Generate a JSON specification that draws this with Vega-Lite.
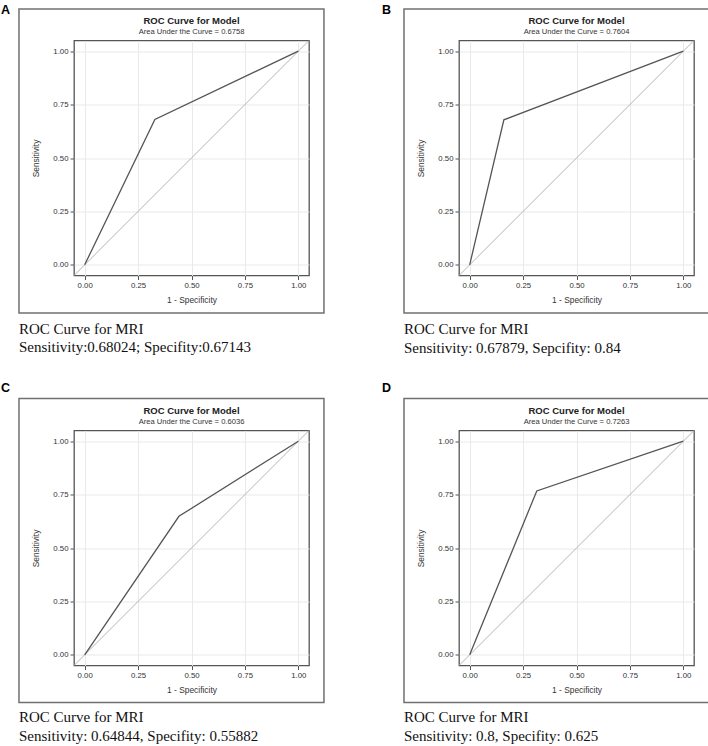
{
  "$schema": "https://vega.github.io/schema/vega-lite/v6.json",
  "background": "white",
  "padding": {"left": 0, "top": 2.5, "right": 0, "bottom": 0},
  "bounds": "flush",
  "columns": 2,
  "spacing": {"row": 155, "column": 150},
  "concat": [
    {
      "width": 235, "height": 235,
      "layer": [
        {"data": {"values": [{}]}, "mark": {"type": "rule", "color": "#b4b4b4", "strokeWidth": 1},
         "encoding": {"x": {"datum": -0.05, "type": "quantitative"}, "x2": {"datum": 1.05}, "y": {"datum": -0.05, "type": "quantitative"}, "y2": {"datum": 1.05}}},
        {"data": {"values": [{"fpr": 0, "tpr": 0}, {"fpr": 0.32857, "tpr": 0.68024}, {"fpr": 1, "tpr": 1}]},
         "mark": {"type": "line", "color": "#555555", "strokeWidth": 1.3},
         "encoding": {
           "x": {"field": "fpr", "type": "quantitative", "scale": {"domain": [-0.05, 1.05], "nice": false, "zero": false}, "axis": {"title": "1 - Specificity", "values": [0, 0.25, 0.5, 0.75, 1], "format": ".2f"}},
           "y": {"field": "tpr", "type": "quantitative", "scale": {"domain": [-0.05, 1.05], "nice": false, "zero": false}, "axis": {"title": "Sensitivity", "values": [0, 0.25, 0.5, 0.75, 1], "format": ".2f"}}}},
        {"data": {"values": [{}]}, "mark": {"type": "text", "font": "Liberation Sans", "fontWeight": "bold", "fontSize": 9.5, "color": "#222", "align": "center", "baseline": "middle", "clip": false},
         "encoding": {"x": {"datum": 0.5, "type": "quantitative"}, "y": {"datum": 1.141, "type": "quantitative"}, "text": {"value": "ROC Curve for Model"}}},
        {"data": {"values": [{}]}, "mark": {"type": "text", "font": "Liberation Sans", "fontSize": 7.6, "color": "#333", "align": "center", "baseline": "middle", "clip": false},
         "encoding": {"x": {"datum": 0.5, "type": "quantitative"}, "y": {"datum": 1.092, "type": "quantitative"}, "text": {"value": "Area Under the Curve = 0.6758"}}},
        {"data": {"values": [{}]}, "mark": {"type": "text", "font": "Liberation Sans", "fontWeight": "bold", "fontSize": 12.5, "color": "#000", "align": "left", "baseline": "middle", "clip": false},
         "encoding": {"x": {"datum": -0.392, "type": "quantitative"}, "y": {"datum": 1.193, "type": "quantitative"}, "text": {"value": "A"}}},
        {"data": {"values": [{}]}, "mark": {"type": "text", "font": "Liberation Serif", "fontSize": 15, "color": "#111", "align": "left", "baseline": "middle", "clip": false},
         "encoding": {"x": {"datum": -0.3075, "type": "quantitative"}, "y": {"datum": -0.30, "type": "quantitative"}, "text": {"value": "ROC Curve for MRI"}}},
        {"data": {"values": [{}]}, "mark": {"type": "text", "font": "Liberation Serif", "fontSize": 15, "color": "#111", "align": "left", "baseline": "middle", "clip": false},
         "encoding": {"x": {"datum": -0.3075, "type": "quantitative"}, "y": {"datum": -0.383, "type": "quantitative"}, "text": {"value": "Sensitivity:0.68024; Specifity:0.67143"}}},
        {"data": {"values": [{}]}, "mark": {"type": "rect", "fillOpacity": 0, "stroke": "#707070", "strokeWidth": 1.5, "clip": false},
         "encoding": {"x": {"datum": -0.3075, "type": "quantitative"}, "x2": {"datum": 1.12}, "y": {"datum": -0.226, "type": "quantitative"}, "y2": {"datum": 1.197}}}
      ]
    },
    {
      "width": 235, "height": 235,
      "layer": [
        {"data": {"values": [{}]}, "mark": {"type": "rule", "color": "#b4b4b4", "strokeWidth": 1},
         "encoding": {"x": {"datum": -0.05, "type": "quantitative"}, "x2": {"datum": 1.05}, "y": {"datum": -0.05, "type": "quantitative"}, "y2": {"datum": 1.05}}},
        {"data": {"values": [{"fpr": 0, "tpr": 0}, {"fpr": 0.16, "tpr": 0.67879}, {"fpr": 1, "tpr": 1}]},
         "mark": {"type": "line", "color": "#555555", "strokeWidth": 1.3},
         "encoding": {
           "x": {"field": "fpr", "type": "quantitative", "scale": {"domain": [-0.05, 1.05], "nice": false, "zero": false}, "axis": {"title": "1 - Specificity", "values": [0, 0.25, 0.5, 0.75, 1], "format": ".2f"}},
           "y": {"field": "tpr", "type": "quantitative", "scale": {"domain": [-0.05, 1.05], "nice": false, "zero": false}, "axis": {"title": "Sensitivity", "values": [0, 0.25, 0.5, 0.75, 1], "format": ".2f"}}}},
        {"data": {"values": [{}]}, "mark": {"type": "text", "font": "Liberation Sans", "fontWeight": "bold", "fontSize": 9.5, "color": "#222", "align": "center", "baseline": "middle", "clip": false},
         "encoding": {"x": {"datum": 0.5, "type": "quantitative"}, "y": {"datum": 1.141, "type": "quantitative"}, "text": {"value": "ROC Curve for Model"}}},
        {"data": {"values": [{}]}, "mark": {"type": "text", "font": "Liberation Sans", "fontSize": 7.6, "color": "#333", "align": "center", "baseline": "middle", "clip": false},
         "encoding": {"x": {"datum": 0.5, "type": "quantitative"}, "y": {"datum": 1.092, "type": "quantitative"}, "text": {"value": "Area Under the Curve = 0.7604"}}},
        {"data": {"values": [{}]}, "mark": {"type": "text", "font": "Liberation Sans", "fontWeight": "bold", "fontSize": 12.5, "color": "#000", "align": "left", "baseline": "middle", "clip": false},
         "encoding": {"x": {"datum": -0.41, "type": "quantitative"}, "y": {"datum": 1.193, "type": "quantitative"}, "text": {"value": "B"}}},
        {"data": {"values": [{}]}, "mark": {"type": "text", "font": "Liberation Serif", "fontSize": 15, "color": "#111", "align": "left", "baseline": "middle", "clip": false},
         "encoding": {"x": {"datum": -0.3075, "type": "quantitative"}, "y": {"datum": -0.30, "type": "quantitative"}, "text": {"value": "ROC Curve for MRI"}}},
        {"data": {"values": [{}]}, "mark": {"type": "text", "font": "Liberation Serif", "fontSize": 15, "color": "#111", "align": "left", "baseline": "middle", "clip": false},
         "encoding": {"x": {"datum": -0.3075, "type": "quantitative"}, "y": {"datum": -0.388, "type": "quantitative"}, "text": {"value": "Sensitivity: 0.67879, Sepcifity: 0.84"}}},
        {"data": {"values": [{}]}, "mark": {"type": "rect", "fillOpacity": 0, "stroke": "#707070", "strokeWidth": 1.5, "clip": false},
         "encoding": {"x": {"datum": -0.3075, "type": "quantitative"}, "x2": {"datum": 1.12}, "y": {"datum": -0.226, "type": "quantitative"}, "y2": {"datum": 1.197}}}
      ]
    },
    {
      "width": 235, "height": 235,
      "layer": [
        {"data": {"values": [{}]}, "mark": {"type": "rule", "color": "#b4b4b4", "strokeWidth": 1},
         "encoding": {"x": {"datum": -0.05, "type": "quantitative"}, "x2": {"datum": 1.05}, "y": {"datum": -0.05, "type": "quantitative"}, "y2": {"datum": 1.05}}},
        {"data": {"values": [{"fpr": 0, "tpr": 0}, {"fpr": 0.44118, "tpr": 0.64844}, {"fpr": 1, "tpr": 1}]},
         "mark": {"type": "line", "color": "#555555", "strokeWidth": 1.3},
         "encoding": {
           "x": {"field": "fpr", "type": "quantitative", "scale": {"domain": [-0.05, 1.05], "nice": false, "zero": false}, "axis": {"title": "1 - Specificity", "values": [0, 0.25, 0.5, 0.75, 1], "format": ".2f"}},
           "y": {"field": "tpr", "type": "quantitative", "scale": {"domain": [-0.05, 1.05], "nice": false, "zero": false}, "axis": {"title": "Sensitivity", "values": [0, 0.25, 0.5, 0.75, 1], "format": ".2f"}}}},
        {"data": {"values": [{}]}, "mark": {"type": "text", "font": "Liberation Sans", "fontWeight": "bold", "fontSize": 9.5, "color": "#222", "align": "center", "baseline": "middle", "clip": false},
         "encoding": {"x": {"datum": 0.5, "type": "quantitative"}, "y": {"datum": 1.141, "type": "quantitative"}, "text": {"value": "ROC Curve for Model"}}},
        {"data": {"values": [{}]}, "mark": {"type": "text", "font": "Liberation Sans", "fontSize": 7.6, "color": "#333", "align": "center", "baseline": "middle", "clip": false},
         "encoding": {"x": {"datum": 0.5, "type": "quantitative"}, "y": {"datum": 1.092, "type": "quantitative"}, "text": {"value": "Area Under the Curve = 0.6036"}}},
        {"data": {"values": [{}]}, "mark": {"type": "text", "font": "Liberation Sans", "fontWeight": "bold", "fontSize": 12.5, "color": "#000", "align": "left", "baseline": "middle", "clip": false},
         "encoding": {"x": {"datum": -0.392, "type": "quantitative"}, "y": {"datum": 1.247, "type": "quantitative"}, "text": {"value": "C"}}},
        {"data": {"values": [{}]}, "mark": {"type": "text", "font": "Liberation Serif", "fontSize": 15, "color": "#111", "align": "left", "baseline": "middle", "clip": false},
         "encoding": {"x": {"datum": -0.3075, "type": "quantitative"}, "y": {"datum": -0.293, "type": "quantitative"}, "text": {"value": "ROC Curve for MRI"}}},
        {"data": {"values": [{}]}, "mark": {"type": "text", "font": "Liberation Serif", "fontSize": 15, "color": "#111", "align": "left", "baseline": "middle", "clip": false},
         "encoding": {"x": {"datum": -0.3075, "type": "quantitative"}, "y": {"datum": -0.378, "type": "quantitative"}, "text": {"value": "Sensitivity: 0.64844, Specifity: 0.55882"}}},
        {"data": {"values": [{}]}, "mark": {"type": "rect", "fillOpacity": 0, "stroke": "#707070", "strokeWidth": 1.5, "clip": false},
         "encoding": {"x": {"datum": -0.3075, "type": "quantitative"}, "x2": {"datum": 1.12}, "y": {"datum": -0.223, "type": "quantitative"}, "y2": {"datum": 1.2}}}
      ]
    },
    {
      "width": 235, "height": 235,
      "layer": [
        {"data": {"values": [{}]}, "mark": {"type": "rule", "color": "#b4b4b4", "strokeWidth": 1},
         "encoding": {"x": {"datum": -0.05, "type": "quantitative"}, "x2": {"datum": 1.05}, "y": {"datum": -0.05, "type": "quantitative"}, "y2": {"datum": 1.05}}},
        {"data": {"values": [{"fpr": 0, "tpr": 0}, {"fpr": 0.314, "tpr": 0.767}, {"fpr": 1, "tpr": 1}]},
         "mark": {"type": "line", "color": "#555555", "strokeWidth": 1.3},
         "encoding": {
           "x": {"field": "fpr", "type": "quantitative", "scale": {"domain": [-0.05, 1.05], "nice": false, "zero": false}, "axis": {"title": "1 - Specificity", "values": [0, 0.25, 0.5, 0.75, 1], "format": ".2f"}},
           "y": {"field": "tpr", "type": "quantitative", "scale": {"domain": [-0.05, 1.05], "nice": false, "zero": false}, "axis": {"title": "Sensitivity", "values": [0, 0.25, 0.5, 0.75, 1], "format": ".2f"}}}},
        {"data": {"values": [{}]}, "mark": {"type": "text", "font": "Liberation Sans", "fontWeight": "bold", "fontSize": 9.5, "color": "#222", "align": "center", "baseline": "middle", "clip": false},
         "encoding": {"x": {"datum": 0.5, "type": "quantitative"}, "y": {"datum": 1.141, "type": "quantitative"}, "text": {"value": "ROC Curve for Model"}}},
        {"data": {"values": [{}]}, "mark": {"type": "text", "font": "Liberation Sans", "fontSize": 7.6, "color": "#333", "align": "center", "baseline": "middle", "clip": false},
         "encoding": {"x": {"datum": 0.5, "type": "quantitative"}, "y": {"datum": 1.092, "type": "quantitative"}, "text": {"value": "Area Under the Curve = 0.7263"}}},
        {"data": {"values": [{}]}, "mark": {"type": "text", "font": "Liberation Sans", "fontWeight": "bold", "fontSize": 12.5, "color": "#000", "align": "left", "baseline": "middle", "clip": false},
         "encoding": {"x": {"datum": -0.41, "type": "quantitative"}, "y": {"datum": 1.247, "type": "quantitative"}, "text": {"value": "D"}}},
        {"data": {"values": [{}]}, "mark": {"type": "text", "font": "Liberation Serif", "fontSize": 15, "color": "#111", "align": "left", "baseline": "middle", "clip": false},
         "encoding": {"x": {"datum": -0.3075, "type": "quantitative"}, "y": {"datum": -0.293, "type": "quantitative"}, "text": {"value": "ROC Curve for MRI"}}},
        {"data": {"values": [{}]}, "mark": {"type": "text", "font": "Liberation Serif", "fontSize": 15, "color": "#111", "align": "left", "baseline": "middle", "clip": false},
         "encoding": {"x": {"datum": -0.3075, "type": "quantitative"}, "y": {"datum": -0.378, "type": "quantitative"}, "text": {"value": "Sensitivity: 0.8, Specifity: 0.625"}}},
        {"data": {"values": [{}]}, "mark": {"type": "rect", "fillOpacity": 0, "stroke": "#707070", "strokeWidth": 1.5, "clip": false},
         "encoding": {"x": {"datum": -0.3075, "type": "quantitative"}, "x2": {"datum": 1.12}, "y": {"datum": -0.223, "type": "quantitative"}, "y2": {"datum": 1.2}}}
      ]
    }
  ],
  "config": {
    "view": {"stroke": "#555555", "strokeWidth": 1.3},
    "axis": {"domain": false, "grid": true, "gridColor": "#e9e9e9", "gridWidth": 1, "ticks": true, "tickColor": "#555555", "tickSize": 4, "labelFont": "Liberation Sans", "labelFontSize": 7.8, "labelColor": "#333333", "labelPadding": 2, "titleFont": "Liberation Sans", "titleFontSize": 8.4, "titleFontWeight": "normal", "titleColor": "#333333"},
    "axisX": {"titlePadding": 6},
    "axisY": {"titlePadding": 12}
  }
}
